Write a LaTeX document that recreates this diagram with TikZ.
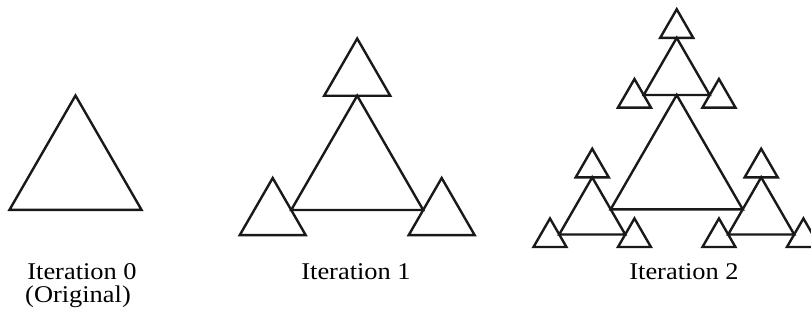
\documentclass[tikz,border=0pt]{standalone}
\usepackage{fontspec}
\setmainfont{Liberation Serif}
\newcommand\ff{0.56}
\newcommand\ftri[3]{\draw[tri] (#1,#2) -- ++({#3/2},{#3*0.866}) -- ++({-#3},0) -- cycle;}
\newcommand\fractal[4]{%
  \ftri{#1}{#2}{#3}%
  \ifnum#4>0
    \begingroup
    \pgfmathsetmacro\hs{#3/2}%
    \pgfmathsetmacro\ty{#2-\hs*0.866}%
    \pgfmathsetmacro\lx{#1-#3/2-\ff*\hs/2}%
    \pgfmathsetmacro\rx{#1+#3/2+\ff*\hs/2}%
    \pgfmathsetmacro\by{#2+0.866*#3-\ff*\hs*0.866}%
    \edef\next{\noexpand\fractal{#1}{\ty}{\hs}{\the\numexpr#4-1\relax}%
      \noexpand\fractal{\lx}{\by}{\hs}{\the\numexpr#4-1\relax}%
      \noexpand\fractal{\rx}{\by}{\hs}{\the\numexpr#4-1\relax}}%
    \next
    \endgroup
  \fi}
\newcommand\wide[1]{\scalebox{1.1}[1]{#1}}
\begin{document}
\begin{tikzpicture}[x=1pt,y=-1pt,
  tri/.style={draw=black!90,line width=2.4pt,line join=miter},
  lbl/.style={font=\fontsize{24}{27}\selectfont,anchor=base,inner sep=0pt}]
\useasboundingbox (0,0) rectangle (811,324);
\fractal{75.5}{95.5}{132}{0}
\fractal{357.2}{95.7}{132}{1}
\fractal{676.7}{95}{132}{2}
\node[lbl] (l0) at (82,279) {\wide{Iteration 0}};
\node[lbl] (l0b) at (78,302) {\wide{(Original)}};
\node[lbl] (l1) at (356,279) {\wide{Iteration 1}};
\node[lbl] (l2) at (684,279) {\wide{Iteration 2}};
\end{tikzpicture}
\end{document}
